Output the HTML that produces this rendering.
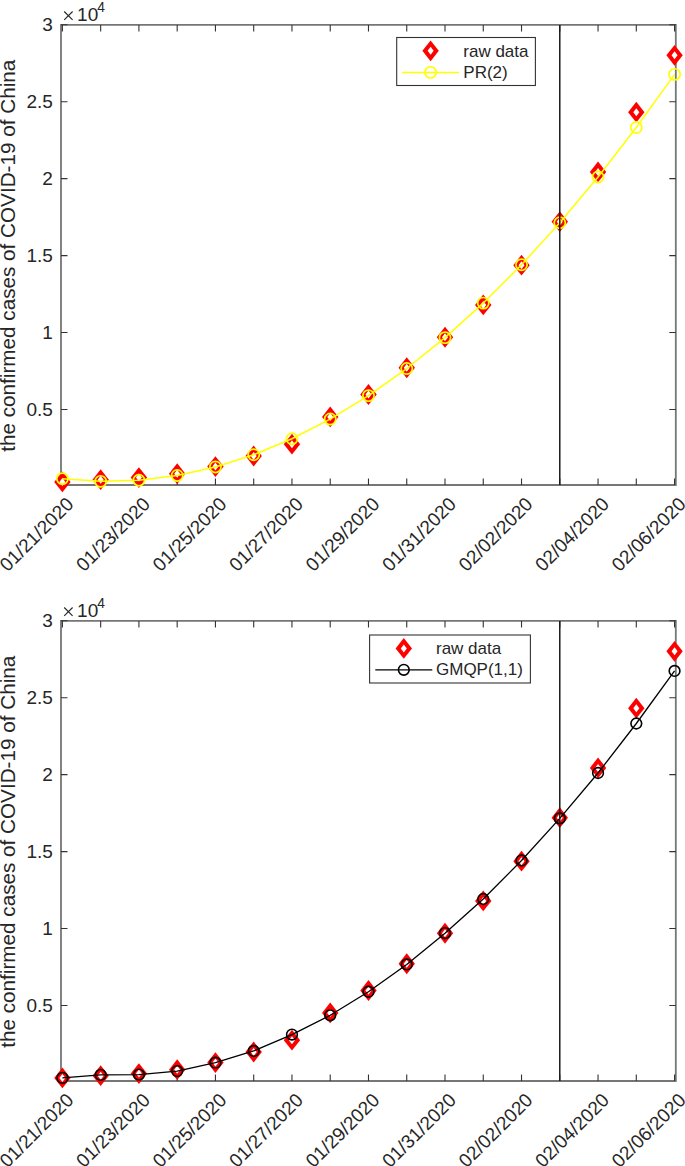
<!DOCTYPE html>
<html><head><meta charset="utf-8"><style>
html,body{margin:0;padding:0;background:#fff;width:685px;height:1166px;overflow:hidden}
svg{display:block}
text{font-family:"Liberation Sans",sans-serif}
</style></head><body>
<svg width="685" height="1166" viewBox="0 0 685 1166" font-family="Liberation Sans, sans-serif">
<rect width="685" height="1166" fill="#fff"/>
<g stroke="#767676" stroke-width="1.8" fill="none">
<path d="M61.0 24.9H675.8M61.0 485H675.8M61.0 24V485.9M675.8 24V485.9"/>
</g>
<path d="M62.4 485V478.5M62.4 24.9V31.4M100.66 485V478.5M100.66 24.9V31.4M138.92 485V478.5M138.92 24.9V31.4M177.18 485V478.5M177.18 24.9V31.4M215.44 485V478.5M215.44 24.9V31.4M253.7 485V478.5M253.7 24.9V31.4M291.96 485V478.5M291.96 24.9V31.4M330.22 485V478.5M330.22 24.9V31.4M368.48 485V478.5M368.48 24.9V31.4M406.74 485V478.5M406.74 24.9V31.4M445 485V478.5M445 24.9V31.4M483.26 485V478.5M483.26 24.9V31.4M521.52 485V478.5M521.52 24.9V31.4M559.78 485V478.5M559.78 24.9V31.4M598.04 485V478.5M598.04 24.9V31.4M636.3 485V478.5M636.3 24.9V31.4M674.56 485V478.5M674.56 24.9V31.4M61.0 409.46H67.5M675.8 409.46H669.3M61.0 332.53H67.5M675.8 332.53H669.3M61.0 255.59H67.5M675.8 255.59H669.3M61.0 178.66H67.5M675.8 178.66H669.3M61.0 101.72H67.5M675.8 101.72H669.3M61.0 24.79H67.5M675.8 24.79H669.3" stroke="#333" stroke-width="1.1" fill="none"/>
<path d="M62.4 471.52L70.6 481.92L62.4 492.32L54.2 481.92Z" fill="#ff0000"/><path d="M62.4 477.92L65.4 481.92L62.4 485.92L59.4 481.92Z" fill="#ffffff"/>
<path d="M100.66 469.23L108.86 479.63L100.66 490.03L92.46 479.63Z" fill="#ff0000"/><path d="M100.66 475.63L103.66 479.63L100.66 483.63L97.66 479.63Z" fill="#ffffff"/>
<path d="M138.92 467.21L147.12 477.61L138.92 488.01L130.72 477.61Z" fill="#ff0000"/><path d="M138.92 473.61L141.92 477.61L138.92 481.61L135.92 477.61Z" fill="#ffffff"/>
<path d="M177.18 463.23L185.38 473.63L177.18 484.03L168.98 473.63Z" fill="#ff0000"/><path d="M177.18 469.63L180.18 473.63L177.18 477.63L174.18 473.63Z" fill="#ffffff"/>
<path d="M215.44 456.2L223.64 466.6L215.44 477L207.24 466.6Z" fill="#ff0000"/><path d="M215.44 462.6L218.44 466.6L215.44 470.6L212.44 466.6Z" fill="#ffffff"/>
<path d="M253.7 445.61L261.9 456.01L253.7 466.41L245.5 456.01Z" fill="#ff0000"/><path d="M253.7 452.01L256.7 456.01L253.7 460.01L250.7 456.01Z" fill="#ffffff"/>
<path d="M291.96 433.78L300.16 444.18L291.96 454.58L283.76 444.18Z" fill="#ff0000"/><path d="M291.96 440.18L294.96 444.18L291.96 448.18L288.96 444.18Z" fill="#ffffff"/>
<path d="M330.22 406.53L338.42 416.93L330.22 427.33L322.02 416.93Z" fill="#ff0000"/><path d="M330.22 412.93L333.22 416.93L330.22 420.93L327.22 416.93Z" fill="#ffffff"/>
<path d="M368.48 384.08L376.68 394.48L368.48 404.88L360.28 394.48Z" fill="#ff0000"/><path d="M368.48 390.48L371.48 394.48L368.48 398.48L365.48 394.48Z" fill="#ffffff"/>
<path d="M406.74 357.35L414.94 367.75L406.74 378.15L398.54 367.75Z" fill="#ff0000"/><path d="M406.74 363.75L409.74 367.75L406.74 371.75L403.74 367.75Z" fill="#ffffff"/>
<path d="M445 326.87L453.2 337.27L445 347.67L436.8 337.27Z" fill="#ff0000"/><path d="M445 333.27L448 337.27L445 341.27L442 337.27Z" fill="#ffffff"/>
<path d="M483.26 294.57L491.46 304.97L483.26 315.37L475.06 304.97Z" fill="#ff0000"/><path d="M483.26 300.97L486.26 304.97L483.26 308.97L480.26 304.97Z" fill="#ffffff"/>
<path d="M521.52 254.73L529.72 265.13L521.52 275.53L513.32 265.13Z" fill="#ff0000"/><path d="M521.52 261.13L524.52 265.13L521.52 269.13L518.52 265.13Z" fill="#ffffff"/>
<path d="M559.78 211.27L567.98 221.67L559.78 232.07L551.58 221.67Z" fill="#ff0000"/><path d="M559.78 217.67L562.78 221.67L559.78 225.67L556.78 221.67Z" fill="#ffffff"/>
<path d="M598.04 161.52L606.24 171.92L598.04 182.32L589.84 171.92Z" fill="#ff0000"/><path d="M598.04 167.92L601.04 171.92L598.04 175.92L595.04 171.92Z" fill="#ffffff"/>
<path d="M636.3 101.73L644.5 112.13L636.3 122.53L628.1 112.13Z" fill="#ff0000"/><path d="M636.3 108.13L639.3 112.13L636.3 116.13L633.3 112.13Z" fill="#ffffff"/>
<path d="M674.56 44.89L682.76 55.29L674.56 65.69L666.36 55.29Z" fill="#ff0000"/><path d="M674.56 51.29L677.56 55.29L674.56 59.29L671.56 55.29Z" fill="#ffffff"/>
<polyline points="62.4,478.68 100.66,481.34 138.92,480.26 177.18,475.48 215.44,466.97 253.7,454.72 291.96,438.76 330.22,419.07 368.48,395.66 406.74,368.54 445,337.67 483.26,303.09 521.52,264.8 559.78,222.76 598.04,177.01 636.3,127.54 674.56,74.35" fill="none" stroke="#ffff00" stroke-width="1.5" stroke-linejoin="round"/>
<circle cx="62.4" cy="478.68" r="5.6" fill="none" stroke="#ffff00" stroke-width="1.7"/>
<circle cx="100.66" cy="481.34" r="5.6" fill="none" stroke="#ffff00" stroke-width="1.7"/>
<circle cx="138.92" cy="480.26" r="5.6" fill="none" stroke="#ffff00" stroke-width="1.7"/>
<circle cx="177.18" cy="475.48" r="5.6" fill="none" stroke="#ffff00" stroke-width="1.7"/>
<circle cx="215.44" cy="466.97" r="5.6" fill="none" stroke="#ffff00" stroke-width="1.7"/>
<circle cx="253.7" cy="454.72" r="5.6" fill="none" stroke="#ffff00" stroke-width="1.7"/>
<circle cx="291.96" cy="438.76" r="5.6" fill="none" stroke="#ffff00" stroke-width="1.7"/>
<circle cx="330.22" cy="419.07" r="5.6" fill="none" stroke="#ffff00" stroke-width="1.7"/>
<circle cx="368.48" cy="395.66" r="5.6" fill="none" stroke="#ffff00" stroke-width="1.7"/>
<circle cx="406.74" cy="368.54" r="5.6" fill="none" stroke="#ffff00" stroke-width="1.7"/>
<circle cx="445" cy="337.67" r="5.6" fill="none" stroke="#ffff00" stroke-width="1.7"/>
<circle cx="483.26" cy="303.09" r="5.6" fill="none" stroke="#ffff00" stroke-width="1.7"/>
<circle cx="521.52" cy="264.8" r="5.6" fill="none" stroke="#ffff00" stroke-width="1.7"/>
<circle cx="559.78" cy="222.76" r="5.6" fill="none" stroke="#ffff00" stroke-width="1.7"/>
<circle cx="598.04" cy="177.01" r="5.6" fill="none" stroke="#ffff00" stroke-width="1.7"/>
<circle cx="636.3" cy="127.54" r="5.6" fill="none" stroke="#ffff00" stroke-width="1.7"/>
<circle cx="674.56" cy="74.35" r="5.6" fill="none" stroke="#ffff00" stroke-width="1.7"/>
<path d="M559.78 24.9V485" stroke="#1a1a1a" stroke-width="1.5"/>
<text x="52.9" y="415.86" text-anchor="end" font-size="19" fill="#262626">0.5</text>
<text x="52.9" y="338.93" text-anchor="end" font-size="19" fill="#262626">1</text>
<text x="52.9" y="261.99" text-anchor="end" font-size="19" fill="#262626">1.5</text>
<text x="52.9" y="185.06" text-anchor="end" font-size="19" fill="#262626">2</text>
<text x="52.9" y="108.12" text-anchor="end" font-size="19" fill="#262626">2.5</text>
<text x="52.9" y="31.19" text-anchor="end" font-size="19" fill="#262626">3</text>
<text transform="translate(74.7 505.3) rotate(-45)" text-anchor="end" font-size="19" fill="#262626">01/21/2020</text>
<text transform="translate(151.22 505.3) rotate(-45)" text-anchor="end" font-size="19" fill="#262626">01/23/2020</text>
<text transform="translate(227.74 505.3) rotate(-45)" text-anchor="end" font-size="19" fill="#262626">01/25/2020</text>
<text transform="translate(304.26 505.3) rotate(-45)" text-anchor="end" font-size="19" fill="#262626">01/27/2020</text>
<text transform="translate(380.78 505.3) rotate(-45)" text-anchor="end" font-size="19" fill="#262626">01/29/2020</text>
<text transform="translate(457.3 505.3) rotate(-45)" text-anchor="end" font-size="19" fill="#262626">01/31/2020</text>
<text transform="translate(533.82 505.3) rotate(-45)" text-anchor="end" font-size="19" fill="#262626">02/02/2020</text>
<text transform="translate(610.34 505.3) rotate(-45)" text-anchor="end" font-size="19" fill="#262626">02/04/2020</text>
<text transform="translate(686.86 505.3) rotate(-45)" text-anchor="end" font-size="19" fill="#262626">02/06/2020</text>
<path d="M64.2 11.5L72.6 19.9M72.6 11.5L64.2 19.9" stroke="#262626" stroke-width="1.1"/>
<text x="77.1" y="20.6" font-size="19" fill="#262626">10</text>
<text x="97.2" y="11.8" font-size="13.8" fill="#262626">4</text>
<text transform="translate(15.2 255.75) rotate(-90)" text-anchor="middle" font-size="20.7" fill="#262626">the confirmed cases of COVID-19 of China</text>
<rect x="396.7" y="37.5" width="138.7" height="48" fill="#fff" stroke="#333" stroke-width="1.1"/>
<path d="M430.6 40.4L438.8 50.8L430.6 61.2L422.4 50.8Z" fill="#ff0000"/><path d="M430.6 46.8L433.6 50.8L430.6 54.8L427.6 50.8Z" fill="#ffffff"/>
<path d="M402 72.4H459.1" stroke="#ffff00" stroke-width="1.5"/>
<circle cx="430.6" cy="72.4" r="5.6" fill="none" stroke="#ffff00" stroke-width="1.7"/>
<text x="463.3" y="56.7" font-size="17" fill="#262626">raw data</text>
<text x="463.3" y="78.4" font-size="17" fill="#262626">PR(2)</text>
<g stroke="#767676" stroke-width="1.8" fill="none">
<path d="M61.0 620.9H675.8M61.0 1081H675.8M61.0 620V1081.9M675.8 620V1081.9"/>
</g>
<path d="M62.4 1081V1074.5M62.4 620.9V627.4M100.66 1081V1074.5M100.66 620.9V627.4M138.92 1081V1074.5M138.92 620.9V627.4M177.18 1081V1074.5M177.18 620.9V627.4M215.44 1081V1074.5M215.44 620.9V627.4M253.7 1081V1074.5M253.7 620.9V627.4M291.96 1081V1074.5M291.96 620.9V627.4M330.22 1081V1074.5M330.22 620.9V627.4M368.48 1081V1074.5M368.48 620.9V627.4M406.74 1081V1074.5M406.74 620.9V627.4M445 1081V1074.5M445 620.9V627.4M483.26 1081V1074.5M483.26 620.9V627.4M521.52 1081V1074.5M521.52 620.9V627.4M559.78 1081V1074.5M559.78 620.9V627.4M598.04 1081V1074.5M598.04 620.9V627.4M636.3 1081V1074.5M636.3 620.9V627.4M674.56 1081V1074.5M674.56 620.9V627.4M61.0 1005.46H67.5M675.8 1005.46H669.3M61.0 928.53H67.5M675.8 928.53H669.3M61.0 851.6H67.5M675.8 851.6H669.3M61.0 774.66H67.5M675.8 774.66H669.3M61.0 697.72H67.5M675.8 697.72H669.3M61.0 620.79H67.5M675.8 620.79H669.3" stroke="#333" stroke-width="1.1" fill="none"/>
<path d="M62.4 1067.52L70.6 1077.92L62.4 1088.32L54.2 1077.92Z" fill="#ff0000"/><path d="M62.4 1073.92L65.4 1077.92L62.4 1081.92L59.4 1077.92Z" fill="#ffffff"/>
<path d="M100.66 1065.23L108.86 1075.63L100.66 1086.03L92.46 1075.63Z" fill="#ff0000"/><path d="M100.66 1071.63L103.66 1075.63L100.66 1079.63L97.66 1075.63Z" fill="#ffffff"/>
<path d="M138.92 1063.21L147.12 1073.61L138.92 1084.01L130.72 1073.61Z" fill="#ff0000"/><path d="M138.92 1069.61L141.92 1073.61L138.92 1077.61L135.92 1073.61Z" fill="#ffffff"/>
<path d="M177.18 1059.23L185.38 1069.63L177.18 1080.03L168.98 1069.63Z" fill="#ff0000"/><path d="M177.18 1065.63L180.18 1069.63L177.18 1073.63L174.18 1069.63Z" fill="#ffffff"/>
<path d="M215.44 1052.2L223.64 1062.6L215.44 1073L207.24 1062.6Z" fill="#ff0000"/><path d="M215.44 1058.6L218.44 1062.6L215.44 1066.6L212.44 1062.6Z" fill="#ffffff"/>
<path d="M253.7 1041.61L261.9 1052.01L253.7 1062.41L245.5 1052.01Z" fill="#ff0000"/><path d="M253.7 1048.01L256.7 1052.01L253.7 1056.01L250.7 1052.01Z" fill="#ffffff"/>
<path d="M291.96 1029.78L300.16 1040.18L291.96 1050.58L283.76 1040.18Z" fill="#ff0000"/><path d="M291.96 1036.18L294.96 1040.18L291.96 1044.18L288.96 1040.18Z" fill="#ffffff"/>
<path d="M330.22 1002.53L338.42 1012.93L330.22 1023.33L322.02 1012.93Z" fill="#ff0000"/><path d="M330.22 1008.93L333.22 1012.93L330.22 1016.93L327.22 1012.93Z" fill="#ffffff"/>
<path d="M368.48 980.08L376.68 990.48L368.48 1000.88L360.28 990.48Z" fill="#ff0000"/><path d="M368.48 986.48L371.48 990.48L368.48 994.48L365.48 990.48Z" fill="#ffffff"/>
<path d="M406.74 953.35L414.94 963.75L406.74 974.15L398.54 963.75Z" fill="#ff0000"/><path d="M406.74 959.75L409.74 963.75L406.74 967.75L403.74 963.75Z" fill="#ffffff"/>
<path d="M445 922.87L453.2 933.27L445 943.67L436.8 933.27Z" fill="#ff0000"/><path d="M445 929.27L448 933.27L445 937.27L442 933.27Z" fill="#ffffff"/>
<path d="M483.26 890.57L491.46 900.97L483.26 911.37L475.06 900.97Z" fill="#ff0000"/><path d="M483.26 896.97L486.26 900.97L483.26 904.97L480.26 900.97Z" fill="#ffffff"/>
<path d="M521.52 850.73L529.72 861.13L521.52 871.53L513.32 861.13Z" fill="#ff0000"/><path d="M521.52 857.13L524.52 861.13L521.52 865.13L518.52 861.13Z" fill="#ffffff"/>
<path d="M559.78 807.27L567.98 817.67L559.78 828.07L551.58 817.67Z" fill="#ff0000"/><path d="M559.78 813.67L562.78 817.67L559.78 821.67L556.78 817.67Z" fill="#ffffff"/>
<path d="M598.04 757.52L606.24 767.92L598.04 778.32L589.84 767.92Z" fill="#ff0000"/><path d="M598.04 763.92L601.04 767.92L598.04 771.92L595.04 767.92Z" fill="#ffffff"/>
<path d="M636.3 697.73L644.5 708.13L636.3 718.53L628.1 708.13Z" fill="#ff0000"/><path d="M636.3 704.13L639.3 708.13L636.3 712.13L633.3 708.13Z" fill="#ffffff"/>
<path d="M674.56 640.89L682.76 651.29L674.56 661.69L666.36 651.29Z" fill="#ff0000"/><path d="M674.56 647.29L677.56 651.29L674.56 655.29L671.56 651.29Z" fill="#ffffff"/>
<polyline points="62.4,1077.92 100.66,1074.86 138.92,1074.63 177.18,1071.11 215.44,1062.7 253.7,1050.93 291.96,1034.55 330.22,1015.31 368.48,991.77 406.74,964.46 445,933.15 483.26,898.99 521.52,860.52 559.78,818.36 598.04,773 636.3,723.5 674.56,670.95" fill="none" stroke="#000000" stroke-width="1.3" stroke-linejoin="round"/>
<circle cx="62.4" cy="1077.92" r="5.35" fill="none" stroke="#000000" stroke-width="1.6"/>
<circle cx="100.66" cy="1074.86" r="5.35" fill="none" stroke="#000000" stroke-width="1.6"/>
<circle cx="138.92" cy="1074.63" r="5.35" fill="none" stroke="#000000" stroke-width="1.6"/>
<circle cx="177.18" cy="1071.11" r="5.35" fill="none" stroke="#000000" stroke-width="1.6"/>
<circle cx="215.44" cy="1062.7" r="5.35" fill="none" stroke="#000000" stroke-width="1.6"/>
<circle cx="253.7" cy="1050.93" r="5.35" fill="none" stroke="#000000" stroke-width="1.6"/>
<circle cx="291.96" cy="1034.55" r="5.35" fill="none" stroke="#000000" stroke-width="1.6"/>
<circle cx="330.22" cy="1015.31" r="5.35" fill="none" stroke="#000000" stroke-width="1.6"/>
<circle cx="368.48" cy="991.77" r="5.35" fill="none" stroke="#000000" stroke-width="1.6"/>
<circle cx="406.74" cy="964.46" r="5.35" fill="none" stroke="#000000" stroke-width="1.6"/>
<circle cx="445" cy="933.15" r="5.35" fill="none" stroke="#000000" stroke-width="1.6"/>
<circle cx="483.26" cy="898.99" r="5.35" fill="none" stroke="#000000" stroke-width="1.6"/>
<circle cx="521.52" cy="860.52" r="5.35" fill="none" stroke="#000000" stroke-width="1.6"/>
<circle cx="559.78" cy="818.36" r="5.35" fill="none" stroke="#000000" stroke-width="1.6"/>
<circle cx="598.04" cy="773" r="5.35" fill="none" stroke="#000000" stroke-width="1.6"/>
<circle cx="636.3" cy="723.5" r="5.35" fill="none" stroke="#000000" stroke-width="1.6"/>
<circle cx="674.56" cy="670.95" r="5.35" fill="none" stroke="#000000" stroke-width="1.6"/>
<path d="M559.78 620.9V1081" stroke="#1a1a1a" stroke-width="1.5"/>
<text x="52.9" y="1011.86" text-anchor="end" font-size="19" fill="#262626">0.5</text>
<text x="52.9" y="934.93" text-anchor="end" font-size="19" fill="#262626">1</text>
<text x="52.9" y="858" text-anchor="end" font-size="19" fill="#262626">1.5</text>
<text x="52.9" y="781.06" text-anchor="end" font-size="19" fill="#262626">2</text>
<text x="52.9" y="704.12" text-anchor="end" font-size="19" fill="#262626">2.5</text>
<text x="52.9" y="627.19" text-anchor="end" font-size="19" fill="#262626">3</text>
<text transform="translate(74.7 1101.3) rotate(-45)" text-anchor="end" font-size="19" fill="#262626">01/21/2020</text>
<text transform="translate(151.22 1101.3) rotate(-45)" text-anchor="end" font-size="19" fill="#262626">01/23/2020</text>
<text transform="translate(227.74 1101.3) rotate(-45)" text-anchor="end" font-size="19" fill="#262626">01/25/2020</text>
<text transform="translate(304.26 1101.3) rotate(-45)" text-anchor="end" font-size="19" fill="#262626">01/27/2020</text>
<text transform="translate(380.78 1101.3) rotate(-45)" text-anchor="end" font-size="19" fill="#262626">01/29/2020</text>
<text transform="translate(457.3 1101.3) rotate(-45)" text-anchor="end" font-size="19" fill="#262626">01/31/2020</text>
<text transform="translate(533.82 1101.3) rotate(-45)" text-anchor="end" font-size="19" fill="#262626">02/02/2020</text>
<text transform="translate(610.34 1101.3) rotate(-45)" text-anchor="end" font-size="19" fill="#262626">02/04/2020</text>
<text transform="translate(686.86 1101.3) rotate(-45)" text-anchor="end" font-size="19" fill="#262626">02/06/2020</text>
<path d="M64.2 607.5L72.6 615.9M72.6 607.5L64.2 615.9" stroke="#262626" stroke-width="1.1"/>
<text x="77.1" y="616.6" font-size="19" fill="#262626">10</text>
<text x="97.2" y="607.8" font-size="13.8" fill="#262626">4</text>
<text transform="translate(15.2 851.75) rotate(-90)" text-anchor="middle" font-size="20.7" fill="#262626">the confirmed cases of COVID-19 of China</text>
<rect x="369.6" y="635" width="160.8" height="48" fill="#fff" stroke="#333" stroke-width="1.1"/>
<path d="M403.8 638L412 648.4L403.8 658.8L395.6 648.4Z" fill="#ff0000"/><path d="M403.8 644.4L406.8 648.4L403.8 652.4L400.8 648.4Z" fill="#ffffff"/>
<path d="M375.3 669.8H432.3" stroke="#000000" stroke-width="1.3"/>
<circle cx="403.8" cy="669.8" r="5.35" fill="none" stroke="#000000" stroke-width="1.6"/>
<text x="436" y="654.0" font-size="17" fill="#262626">raw data</text>
<text x="436" y="675.3" font-size="17" fill="#262626">GMQP(1,1)</text>
</svg>
</body></html>
